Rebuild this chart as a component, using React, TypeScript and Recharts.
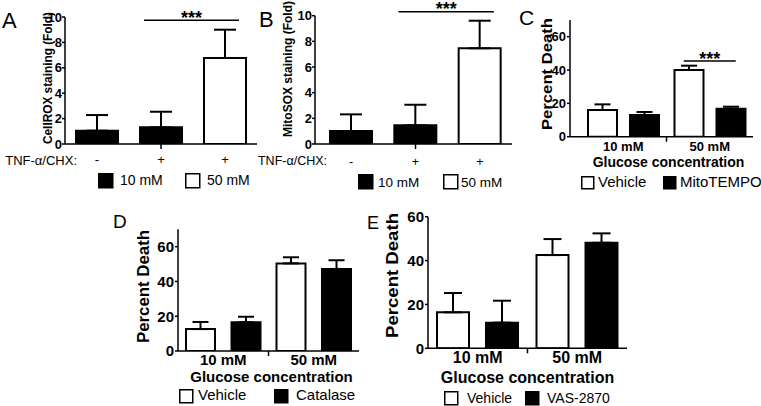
import { BarChart, Bar, Cell, XAxis, YAxis, ErrorBar, ReferenceLine } from 'recharts'

const W = 761
const H = 406
const FONT = '"Liberation Sans", Arial, Helvetica, sans-serif'
const Y_W = 30
const X_H = 30

// A / B : ROS staining, fold of control
const rosGroups = ['ctl', 'tnf10', 'tnf50']
const rosTreatment = ['-', '+', '+']
const rosGlucose = ['10 mM', '10 mM', '50 mM']
const rosTicks = [0, 2, 4, 6, 8, 10]
const cellRoxMean = [1.05, 1.31, 6.77]
const cellRoxSem = [1.23, 1.23, 2.23]
const mitoSoxMean = [1.01, 1.46, 7.46]
const mitoSoxSem = [1.3, 1.6, 2.15]
const glucoseLevels = ['10 mM', '50 mM']

// C / D / E : percent death
const glucose = ['10 mM', '50 mM']
const deathTicks = [0, 20, 40, 60]
const mitoVehicle = [16, 40]
const mitoVehicleSem = [3.4, 2.6]
const mitoTempo = [13, 16.8]
const mitoTempoSem = [1.8, 1.2]
const catVehicle = [12.6, 50.4]
const catVehicleSem = [4.1, 3.5]
const catalase = [16.5, 47.2]
const catalaseSem = [3.2, 5.0]
const vasVehicle = [16.4, 42.5]
const vasVehicleSem = [8.8, 7.3]
const vas2870 = [11.7, 48.1]
const vas2870Sem = [10.0, 4.3]

type Box = { left: number; right: number; top: number; bottom: number; padLeft?: number }

const margins = (b: Box) => ({
  left: b.left - Y_W,
  right: W - b.right,
  top: b.top,
  bottom: H - b.bottom - X_H,
})

const layer: React.CSSProperties = { position: 'absolute', left: 0, top: 0 }
const axisStroke = { stroke: '#000', strokeWidth: 1.5 }

const bottomTitle = (text: string, x: number, y: number, size: number, bold: boolean, anchor: string) => () => (
  <text x={x} y={y} textAnchor={anchor} fontFamily={FONT} fontSize={size}
    fontWeight={bold ? 'bold' : 'normal'} fill="#000">
    {text}
  </text>
)

const sigShape = (extLeft: number, extRight: number, half = 0) => (p: any) => {
  const xa = Math.min(p.x1, p.x2) - extLeft - half
  const xb = Math.max(p.x1, p.x2) + extRight + half
  const y = p.y1
  return (
    <g>
      <line x1={xa} y1={y} x2={xb} y2={y} stroke="#000" strokeWidth={1.5} />
      <text x={(xa + xb) / 2} y={y + 3.5} textAnchor="middle" fontFamily={FONT} fontWeight="bold" fontSize={18} fill="#000">***</text>
    </g>
  )
}

const tickMark = (p: any) => {
  const y = Math.max(p.y1, p.y2)
  return <line x1={p.x1} y1={y} x2={p.x1} y2={y + 5} stroke="#000" strokeWidth={1.5} />
}

type RosProps = {
  box: Box
  means: number[]
  sems: number[]
  treatFont: number
  treatMargin: number
  sigY: number
}

function RosPanel({ box, means, sems, treatFont, treatMargin, sigY }: RosProps) {
  const data = rosGroups.map((g, i) => ({ group: g, mean: means[i], err: [0, sems[i]], glucose: rosGlucose[i] }))
  return (
    <div style={layer}>
      <BarChart width={W} height={H} data={data} margin={margins(box)} barSize={42}>
        <XAxis
          dataKey="group"
          interval={0}
          padding={{ left: box.padLeft ?? 0, right: 0 }}
          tickFormatter={(v: string) => rosTreatment[rosGroups.indexOf(v)]}
          tickLine={false}
          tickSize={6}
          tickMargin={treatMargin}
          axisLine={axisStroke}
          tick={{ fill: '#000', fontSize: treatFont, fontFamily: FONT }}
          label={bottomTitle('TNF-\u03b1/CHX:', box.left + 12, box.bottom + 21, treatFont, false, 'end')}
        />
        <YAxis
          width={Y_W}
          domain={[0, 10]}
          ticks={rosTicks}
          allowDataOverflow
          tickSize={3}
          tickMargin={0}
          axisLine={axisStroke}
          tickLine={axisStroke}
          tick={{ fill: '#000', fontSize: 13, fontWeight: 'bold', fontFamily: FONT }}
        />
        <Bar dataKey="mean" stroke="#000" strokeWidth={2} isAnimationActive={false}>
          {data.map(d => (
            <Cell key={d.group} fill={d.glucose === '10 mM' ? '#000' : '#fff'} />
          ))}
          <ErrorBar dataKey="err" width={11} stroke="#000" strokeWidth={2} />
        </Bar>
        <ReferenceLine x="tnf10" ifOverflow="visible" shape={tickMark} />
        <ReferenceLine
          segment={[{ x: 'tnf10', y: sigY }, { x: 'tnf50', y: sigY }]}
          ifOverflow="visible"
          shape={sigShape(17, 14)}
        />
      </BarChart>
    </div>
  )
}

type DeathProps = {
  box: Box
  yMax: number
  vehicle: number[]
  vehicleSem: number[]
  drug: number[]
  drugSem: number[]
  barSize: number
  barGap: number
  cap: number
  tickFont: number
  catFont: number
  catMargin: number
  titleDx: number
  titleDy: number
  titleSize: number
  sigY?: number
}

function DeathPanel(p: DeathProps) {
  const data = glucose.map((g, i) => ({
    glucose: g,
    vehicle: p.vehicle[i],
    vehicleErr: [0, p.vehicleSem[i]],
    drug: p.drug[i],
    drugErr: [0, p.drugSem[i]],
  }))
  const b = p.box
  const midX = (b.left + b.right) / 2
  return (
    <div style={layer}>
      <BarChart width={W} height={H} data={data} margin={margins(b)} barSize={p.barSize} barGap={p.barGap}>
        <XAxis
          dataKey="glucose"
          interval={0}
          padding={{ left: b.padLeft ?? 0, right: 0 }}
          tickLine={false}
          tickSize={3}
          tickMargin={p.catMargin}
          axisLine={axisStroke}
          tick={{ fill: '#000', fontSize: p.catFont, fontWeight: 'bold', fontFamily: FONT }}
          label={bottomTitle('Glucose concentration', midX + p.titleDx, b.bottom + p.titleDy, p.titleSize, true, 'middle')}
        />
        <YAxis
          width={Y_W}
          domain={[0, p.yMax]}
          ticks={deathTicks}
          allowDataOverflow
          tickSize={3}
          tickMargin={1}
          axisLine={axisStroke}
          tickLine={axisStroke}
          tick={{ fill: '#000', fontSize: p.tickFont, fontWeight: 'bold', fontFamily: FONT }}
        />
        <Bar dataKey="vehicle" fill="#fff" stroke="#000" strokeWidth={2} isAnimationActive={false}>
          <ErrorBar dataKey="vehicleErr" width={p.cap} stroke="#000" strokeWidth={2} />
        </Bar>
        <Bar dataKey="drug" fill="#000" stroke="#000" strokeWidth={2} isAnimationActive={false}>
          <ErrorBar dataKey="drugErr" width={p.cap} stroke="#000" strokeWidth={2} />
        </Bar>
        <ReferenceLine x="50 mM" position="start" ifOverflow="visible" shape={tickMark} />
        {p.sigY !== undefined && (
          <ReferenceLine
            segment={[{ x: '50 mM', y: p.sigY }, { x: '50 mM', y: p.sigY }]}
            ifOverflow="visible"
            shape={sigShape(0, 0, 26)}
          />
        )}
      </BarChart>
    </div>
  )
}

type LegendSpec = {
  names: string[]
  fills: string[]
  sq: number[]
  tx: number[]
  top: number
  size: number
  base: number
  font: number
}

const legends: LegendSpec[] = [
  { names: glucoseLevels, fills: ['#000', '#fff'], sq: [98, 185], tx: [120, 207], top: 173, size: 14, base: 185, font: 14 },
  { names: glucoseLevels, fills: ['#000', '#fff'], sq: [358, 443], tx: [378, 461], top: 174, size: 14, base: 187, font: 13.5 },
  { names: ['Vehicle', 'MitoTEMPO'], fills: ['#fff', '#000'], sq: [581, 663], tx: [598, 680], top: 176, size: 12, base: 187, font: 15 },
  { names: ['Vehicle', 'Catalase'], fills: ['#fff', '#000'], sq: [179, 274], tx: [198, 296], top: 389, size: 13, base: 400, font: 15 },
  { names: ['Vehicle', 'VAS-2870'], fills: ['#fff', '#000'], sq: [444, 525], tx: [467, 547], top: 391, size: 13, base: 403, font: 14 },
]

// rotated y-axis titles: baseline x, centre y
const yTitles = [
  { t: 'CellROX staining (Fold)', x: 52, y: 78, size: 12, len: 132 },
  { t: 'MitoSOX staining (Fold)', x: 292, y: 69, size: 12, len: 136 },
  { t: 'Percent Death', x: 552, y: 74, size: 15, len: 112 },
  { t: 'Percent Death', x: 149, y: 286.5, size: 16, len: 113 },
  { t: 'Percent Death', x: 398, y: 275.5, size: 16, len: 125 },
]

const letters = [
  { t: 'A', x: 2, y: 28, size: 22 },
  { t: 'B', x: 259, y: 27, size: 22 },
  { t: 'C', x: 519, y: 25, size: 21 },
  { t: 'D', x: 113, y: 228, size: 19 },
  { t: 'E', x: 367, y: 229, size: 18 },
]

function Overlay() {
  return (
    <svg width={W} height={H} style={{ ...layer, pointerEvents: 'none' }}>
      {letters.map(l => (
        <text key={l.t} x={l.x} y={l.y} fontFamily={FONT} fontSize={l.size} fill="#000">{l.t}</text>
      ))}
      {yTitles.map((l, i) => (
        <text key={i} x={l.x} y={l.y} transform={`rotate(-90 ${l.x} ${l.y})`} textAnchor="middle"
          fontFamily={FONT} fontWeight="bold" fontSize={l.size} textLength={l.len}
          lengthAdjust="spacingAndGlyphs" fill="#000">
          {l.t}
        </text>
      ))}
      {legends.map((lg, i) => (
        <g key={i}>
          {lg.names.map((n, j) => (
            <g key={n}>
              <rect x={lg.sq[j] + 0.75} y={lg.top + 0.75} width={lg.size} height={lg.size} fill={lg.fills[j]} stroke="#000" strokeWidth={1.5} />
              <text x={lg.tx[j]} y={lg.base} fontFamily={FONT} fontSize={lg.font} fill="#000">{n}</text>
            </g>
          ))}
        </g>
      ))}
    </svg>
  )
}

export default function App() {
  return (
    <div style={{ position: 'absolute', left: 0, top: 0, width: W, height: H, background: '#fff', overflow: 'hidden' }}>
      <RosPanel
        box={{ left: 65, right: 257, top: 17, bottom: 144 }}
        means={cellRoxMean}
        sems={cellRoxSem}
        treatFont={13}
        treatMargin={5}
        sigY={9.74}
      />
      <RosPanel
        box={{ left: 315, right: 512, top: 15.7, bottom: 144, padLeft: 4 }}
        means={mitoSoxMean}
        sems={mitoSoxSem}
        treatFont={12.5}
        treatMargin={7}
        sigY={10.31}
      />
      <DeathPanel
        box={{ left: 570, right: 753, top: 20, bottom: 136.7, padLeft: 10 }}
        yMax={70}
        vehicle={mitoVehicle}
        vehicleSem={mitoVehicleSem}
        drug={mitoTempo}
        drugSem={mitoTempoSem}
        barSize={29}
        barGap={13}
        cap={8}
        tickFont={13}
        catFont={13}
        catMargin={2}
        titleDx={7}
        titleDy={30.5}
        titleSize={14}
        sigY={45.4}
      />
      <DeathPanel
        box={{ left: 178, right: 359, top: 229.3, bottom: 351 }}
        yMax={70}
        vehicle={catVehicle}
        vehicleSem={catVehicleSem}
        drug={catalase}
        drugSem={catalaseSem}
        barSize={29}
        barGap={16.5}
        cap={8}
        tickFont={15}
        catFont={15}
        catMargin={0}
        titleDx={3}
        titleDy={30.5}
        titleSize={15}
      />
      <DeathPanel
        box={{ left: 428, right: 627, top: 216.7, bottom: 348.3 }}
        yMax={60}
        vehicle={vasVehicle}
        vehicleSem={vasVehicleSem}
        drug={vas2870}
        drugSem={vas2870Sem}
        barSize={32}
        barGap={17}
        cap={9}
        tickFont={15}
        catFont={16}
        catMargin={0}
        titleDx={0}
        titleDy={34.5}
        titleSize={16}
      />
      <Overlay />
    </div>
  )
}
